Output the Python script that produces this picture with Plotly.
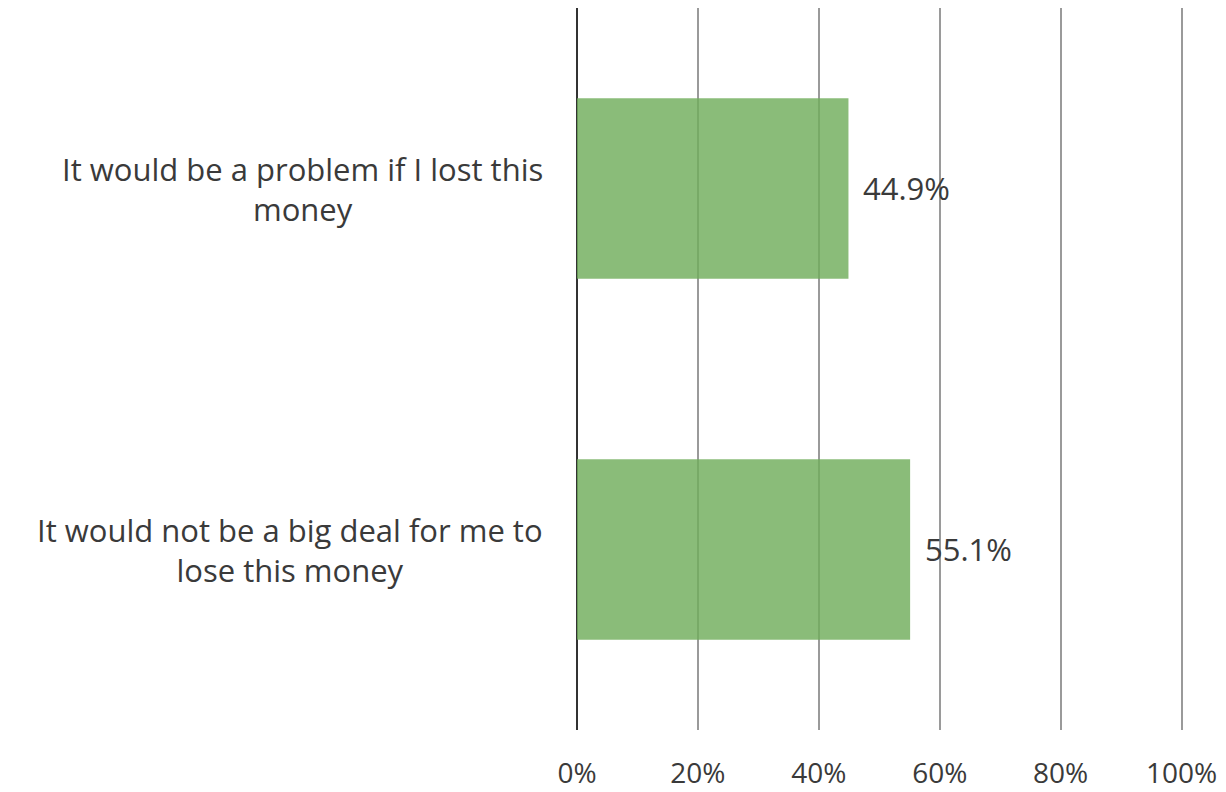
import plotly.graph_objects as go

categories = ["It would be a problem if I lost this money",
              "It would not be a big deal for me to lose this money"]
label_text = ["It would be a problem if I lost this<br>money",
              "It would not be a big deal for me to<br>lose this money"]
values = [44.9, 55.1]
value_labels = ["44.9%", "55.1%"]
tick_vals = [0, 20, 40, 60, 80, 100]
tick_text = ["0%", "20%", "40%", "60%", "80%", "100%"]

FONT = "Open Sans, Noto Sans, sans-serif"
TXT = "#3a3a3a"

fig = go.Figure()
fig.add_trace(go.Bar(
    y=categories, x=values, orientation="h",
    marker=dict(color="rgba(112,173,92,0.82)", line=dict(width=0)),
    hoverinfo="skip", showlegend=False,
))

annotations = []
for cat, txt in zip(categories, label_text):
    annotations.append(dict(
        x=-0.053, xref="paper", y=cat, yref="y", text=txt,
        showarrow=False, xanchor="right", yanchor="middle", align="center",
        font=dict(family=FONT, size=31, color=TXT)))

for cat, v, t in zip(categories, values, value_labels):
    annotations.append(dict(
        x=v, xref="x", y=cat, yref="y", text=t, showarrow=False,
        xanchor="left", yanchor="middle", xshift=13, yshift=1,
        font=dict(family=FONT, size=31, color=TXT)))

fig.update_layout(
    width=1226, height=792,
    margin=dict(l=569, r=50, t=0, b=70),
    paper_bgcolor="white", plot_bgcolor="white",
    bargap=0.5,
    annotations=annotations,
    xaxis=dict(range=[0, 100.4], tickvals=tick_vals, ticktext=tick_text,
               showgrid=True, gridcolor="#9a9a9a", gridwidth=2,
               zeroline=True, zerolinecolor="#333333", zerolinewidth=2,
               showline=False, ticks="", ticklabelstandoff=24,
               tickfont=dict(family=FONT, size=28, color=TXT)),
    yaxis=dict(autorange="reversed", showticklabels=False, showgrid=False,
               zeroline=False, showline=False, ticks=""),
)

fig.write_html("out.html")
